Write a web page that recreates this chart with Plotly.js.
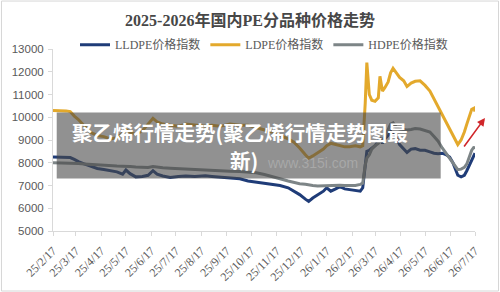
<!DOCTYPE html>
<html>
<head>
<meta charset="utf-8">
<script src="https://cdn.plot.ly/plotly-3.0.1.min.js"></script>
<style>
  html, body { margin: 0; padding: 0; background: #ffffff; }
  #chart { width: 500px; height: 292px; }
</style>
</head>
<body>
<div id="chart"></div>
<script>
// Sampling dates of the PE price indexes
const dates = [
  '2025-02-17','2025-02-26','2025-03-05','2025-03-10','2025-03-15','2025-03-20','2025-03-27',
  '2025-04-03','2025-04-12','2025-04-20','2025-04-28','2025-05-06','2025-05-13','2025-05-17',
  '2025-05-22','2025-05-29','2025-06-06','2025-06-13','2025-06-19','2025-06-24','2025-07-01',
  '2025-07-10','2025-07-20','2025-07-29','2025-08-09','2025-08-22','2025-08-30','2025-09-09',
  '2025-09-21','2025-10-03','2025-10-13','2025-10-23','2025-11-02','2025-11-11','2025-11-21',
  '2025-12-01','2025-12-08','2025-12-15','2025-12-22','2025-12-26','2025-12-31','2026-01-06',
  '2026-01-13','2026-01-17','2026-01-22','2026-01-28','2026-02-02','2026-02-08','2026-02-14',
  '2026-02-21','2026-02-27','2026-03-02','2026-03-05','2026-03-07','2026-03-10','2026-03-13',
  '2026-03-17','2026-03-21','2026-03-23','2026-03-26','2026-03-29','2026-04-02','2026-04-05',
  '2026-04-08','2026-04-12','2026-04-16','2026-04-21','2026-04-25','2026-04-30','2026-05-05',
  '2026-05-11','2026-05-17','2026-05-23','2026-05-28','2026-06-02','2026-06-07','2026-06-12',
  '2026-06-16','2026-06-20','2026-06-24','2026-06-26','2026-06-30','2026-07-04','2026-07-07',
  '2026-07-11','2026-07-13','2026-07-16','2026-07-17'
];

// LLDPE price index
const lldpe = [
  8250,8250,8250,8230,8150,8050,7950,
  7850,7750,7700,7650,7600,7500,7680,
  7520,7380,7400,7450,7650,7500,7420,
  7350,7400,7420,7400,7430,7400,7380,
  7350,7300,7200,7150,7100,7080,7000,
  6900,6750,6600,6400,6300,6450,6600,
  6750,6900,6750,6850,6950,6850,6820,
  6800,6750,6900,7800,8500,8550,8650,
  8750,8950,9100,8850,9050,9200,9380,
  9250,9100,8800,8600,8450,8600,8620,
  8550,8550,8480,8420,8400,8420,8350,
  8250,8000,7650,7450,7380,7450,7650,
  7950,8150,8350,8420
];

// LDPE price index
const ldpe = [
  10300,10300,10280,10250,10050,9900,9600,
  9350,9200,9150,9050,9100,9300,9450,
  9350,9250,9400,9700,9950,9800,9700,
  9650,9600,9700,9650,9600,9650,9600,
  9700,9650,9650,9550,9450,9350,9200,
  9050,8900,8650,8350,8200,8300,8450,
  8600,8750,8850,8800,8750,8700,8700,
  8750,8700,8750,10600,12400,11000,10750,
  10700,10850,11800,11150,11300,11550,11950,
  12150,11950,11750,11600,11350,11500,11580,
  11600,11400,11150,10800,10500,10100,9800,
  9450,9200,8950,8800,9000,9350,9700,
  10100,10350,10400,10250
];

// HDPE price index
const hdpe = [
  8000,8000,8000,7990,7980,7970,7950,
  7930,7900,7890,7870,7860,7850,7850,
  7830,7810,7800,7790,7830,7800,7780,
  7760,7740,7720,7700,7680,7670,7650,
  7630,7620,7600,7560,7480,7380,7300,
  7200,7130,7080,7050,7020,7000,6980,
  6990,7000,7010,7020,7010,7000,6990,
  7000,7050,7100,7900,8200,8350,8600,
  8750,8850,8950,9000,9150,9450,9700,
  9750,9550,9480,9450,9440,9460,9500,
  9480,9400,9350,9150,8950,8650,8400,
  8150,7950,7750,7700,7720,7800,7950,
  8300,8550,8700,8600
];

// Month ticks on the date axis
const tickDates = [
  '2025-02-17','2025-03-17','2025-04-17','2025-05-17','2025-06-17','2025-07-17',
  '2025-08-17','2025-09-17','2025-10-17','2025-11-17','2025-12-17','2026-01-17',
  '2026-02-17','2026-03-17','2026-04-17','2026-05-17','2026-06-17','2026-07-17'
];
const tickLabels = [
  '25/2/17','25/3/17','25/4/17','25/5/17','25/6/17','25/7/17',
  '25/8/17','25/9/17','25/10/17','25/11/17','25/12/17','26/1/17',
  '26/2/17','26/3/17','26/4/17','26/5/17','26/6/17','26/7/17'
];

const seriesNames = ['LLDPE价格指数', 'LDPE价格指数', 'HDPE价格指数'];
const seriesColors = ['#1f3c78', '#e3a92c', '#7d8587'];

const serifCJK = '"Liberation Serif", "Noto Sans CJK SC", serif';

const traces = [lldpe, ldpe, hdpe].map((vals, i) => ({
  type: 'scatter',
  mode: 'lines',
  name: seriesNames[i],
  x: dates,
  y: vals,
  line: { color: seriesColors[i], width: 3 },
  hoverinfo: 'skip'
}));

const bannerFont = { family: '"Noto Sans CJK SC", sans-serif', size: 20.5, color: '#ffffff', weight: 'bold' };

const layout = {
  width: 500,
  height: 292,
  margin: { l: 53, r: 25, t: 49, b: 61, pad: 0 },
  paper_bgcolor: '#ffffff',
  plot_bgcolor: '#ffffff',
  title: {
    text: '2025-2026年国内PE分品种价格走势',
    x: 0.5,
    xref: 'container',
    xanchor: 'center',
    y: 1 - 20 / 292,
    yref: 'container',
    yanchor: 'middle',
    font: { family: serifCJK, size: 16, color: '#474747', weight: 'bold' }
  },
  showlegend: true,
  legend: {
    orientation: 'h',
    x: 0.5,
    xanchor: 'center',
    y: 1.024,
    yanchor: 'middle',
    itemwidth: 30,
    font: { family: serifCJK, size: 12, color: '#595959' },
    bgcolor: 'rgba(0,0,0,0)'
  },
  xaxis: {
    type: 'date',
    range: ['2025-02-17', '2026-07-17'],
    tickmode: 'array',
    tickvals: tickDates,
    ticktext: tickLabels,
    tickangle: -45,
    showgrid: false,
    zeroline: false,
    showline: true,
    linecolor: '#d9d9d9',
    linewidth: 1,
    ticks: 'outside',
    ticklen: 4,
    tickcolor: '#d9d9d9',
    ticklabelstandoff: 3,
    tickfont: { family: '"Liberation Serif", serif', size: 12, color: '#595959' }
  },
  yaxis: {
    range: [5000, 13000],
    tickmode: 'linear',
    tick0: 5000,
    dtick: 1000,
    tickformat: 'd',
    showgrid: false,
    zeroline: false,
    showline: true,
    linecolor: '#d9d9d9',
    linewidth: 1,
    ticks: 'outside',
    ticklen: 4,
    tickcolor: '#d9d9d9',
    ticklabelstandoff: 2,
    tickfont: { family: '"Liberation Sans", Arial, sans-serif', size: 11.5, color: '#595959' }
  },
  shapes: [
    // chart area frame
    {
      type: 'rect', xref: 'paper', yref: 'paper', layer: 'above',
      x0: -0.1221, x1: 1.0557, y0: -0.3297, y1: 1.2635,
      line: { color: '#d6d6d6', width: 1 }, fillcolor: 'rgba(0,0,0,0)'
    },
    // caption banner
    {
      type: 'rect', xref: 'paper', yref: 'paper', layer: 'above',
      x0: 0.0088, x1: 0.9187, y0: 0.2889, y1: 0.6505,
      line: { width: 0 }, fillcolor: 'rgba(72,72,72,0.6)'
    }
  ],
  annotations: [
    {
      xref: 'paper', yref: 'paper',
      x: (312 - 53) / 422, y: (230.7 - 173) / 181.4,
      text: 'www.315i.com', showarrow: false,
      font: { family: '"Liberation Sans", sans-serif', size: 14, color: 'rgba(255,255,255,0.22)' }
    },
    {
      xref: 'paper', yref: 'paper',
      x: (240 - 53) / 422, y: (230.7 - 132.5) / 181.4,
      xanchor: 'center', yanchor: 'middle',
      text: '聚乙烯行情走势(聚乙烯行情走势图最', showarrow: false,
      font: bannerFont
    },
    {
      xref: 'paper', yref: 'paper',
      x: (244 - 53) / 422, y: (230.7 - 159.5) / 181.4,
      xanchor: 'center', yanchor: 'middle',
      text: '新)', showarrow: false,
      font: bannerFont
    },
    {
      xref: 'paper', yref: 'paper',
      x: (485 - 53) / 422, y: (230.7 - 118) / 181.4,
      ax: -22, ay: 30, axref: 'pixel', ayref: 'pixel',
      text: '', showarrow: true,
      arrowhead: 2, arrowsize: 1, arrowwidth: 1.6, arrowcolor: '#d0262a'
    }
  ]
};

Plotly.newPlot('chart', traces, layout, { staticPlot: true, displayModeBar: false });
</script>
</body>
</html>
